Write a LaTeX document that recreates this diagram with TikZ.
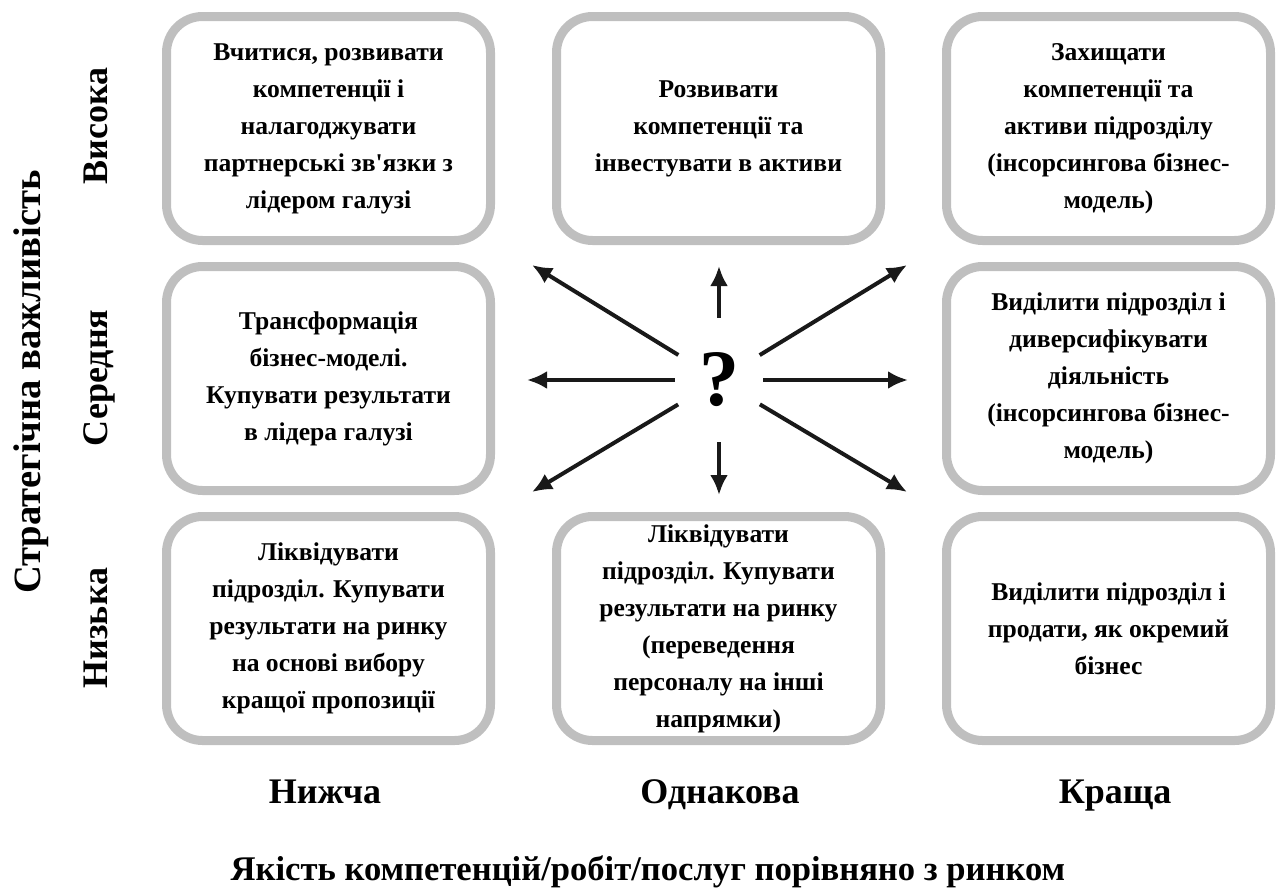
\documentclass[tikz,border=0pt]{standalone}
\usepackage{fontspec}
\setmainfont{Liberation Serif}[BoldFont={Liberation Serif Bold}, Ligatures=TeXOff]
\usepackage{tikz}
\usetikzlibrary{positioning, shapes.geometric, arrows.meta}

\begin{document}
\begin{tikzpicture}[
    x=0.5pt, y=-0.5pt,
    node distance=8.5pt and 28.5pt,
    cell/.style={rectangle, draw=black!25, line width=4.5pt, rounded corners=18pt,
        minimum width=162pt, minimum height=112pt, align=center,
        font=\fontsize{12.8}{18.5}\selectfont\bfseries},
    axislabel/.style={font=\fontsize{18}{22}\selectfont\bfseries, anchor=base},
    arr/.style={-{Latex[length=10pt, width=9pt]}, line width=2pt, black!90}
]
\useasboundingbox (0,0) rectangle (1286,889);

% Top row
\node[cell] (hilow) at (328.5,128.5) {Вчитися, розвивати\\ компетенції і\\ налагоджувати\\ партнерські зв'язки з\\ лідером галузі};
\node[cell, right=of hilow] (hisame) {Розвивати\\ компетенції та\\ інвестувати в активи};
\node[cell, right=of hisame] (hibest) {Захищати\\ компетенції та\\ активи підрозділу\\ (інсорсингова бізнес-\\ модель)};

% Middle row
\node[cell, below=of hilow] (midlow) {Трансформація\\ бізнес-моделі.\\ Купувати результати\\ в лідера галузі};
\node[cell, below=of hibest] (midbest) {Виділити підрозділ і\\ диверсифікувати\\ діяльність\\ (інсорсингова бізнес-\\ модель)};

% Bottom row
\node[cell, below=of midlow] (lolow) {Ліквідувати\\ підрозділ. Купувати\\ результати на ринку\\ на основі вибору\\ кращої пропозиції};
\node[cell, right=of lolow] (losame) {Ліквідувати\\ підрозділ. Купувати\\ результати на ринку\\ (переведення\\ персоналу на інші\\ напрямки)};
\node[cell, right=of losame] (lobest) {Виділити підрозділ і\\ продати, як окремий\\ бізнес};

% Question in the centre
\node[ellipse, minimum width=44pt, minimum height=62pt, inner sep=0pt,
    font=\fontsize{40}{40}\selectfont\bfseries] (q) at (719,380) {?};

\coordinate (toul) at (532,265);
\coordinate (tou) at (719,266);
\coordinate (tour) at (907,265);
\coordinate (tol) at (527,380);
\coordinate (tor) at (908,380);
\coordinate (todl) at (532,492);
\coordinate (tod) at (719,495);
\coordinate (todr) at (907,492);

\foreach \t in {toul, tou, tour, tol, tor, todl, tod, todr}
    \draw[arr] (q) -- (\t);

% Axis labels
\node[axislabel, rotate=90, font=\fontsize{19.3}{22}\selectfont\bfseries] (yaxis) at (40,382) {Стратегічна важливість};
\node[axislabel, rotate=90] (high) at (107,126) {Висока};
\node[axislabel, rotate=90] (medium) at (107,378) {Середня};
\node[axislabel, rotate=90] (low) at (107,628) {Низька};

\node[axislabel] (worse) at (325,803) {Нижча};
\node[axislabel] (same) at (720,803) {Однакова};
\node[axislabel] (better) at (1115,803) {Краща};
\node[axislabel, font=\fontsize{17.3}{22}\selectfont\bfseries] (xaxis) at (648,880) {Якість компетенцій/робіт/послуг порівняно з ринком};

\end{tikzpicture}
\end{document}
